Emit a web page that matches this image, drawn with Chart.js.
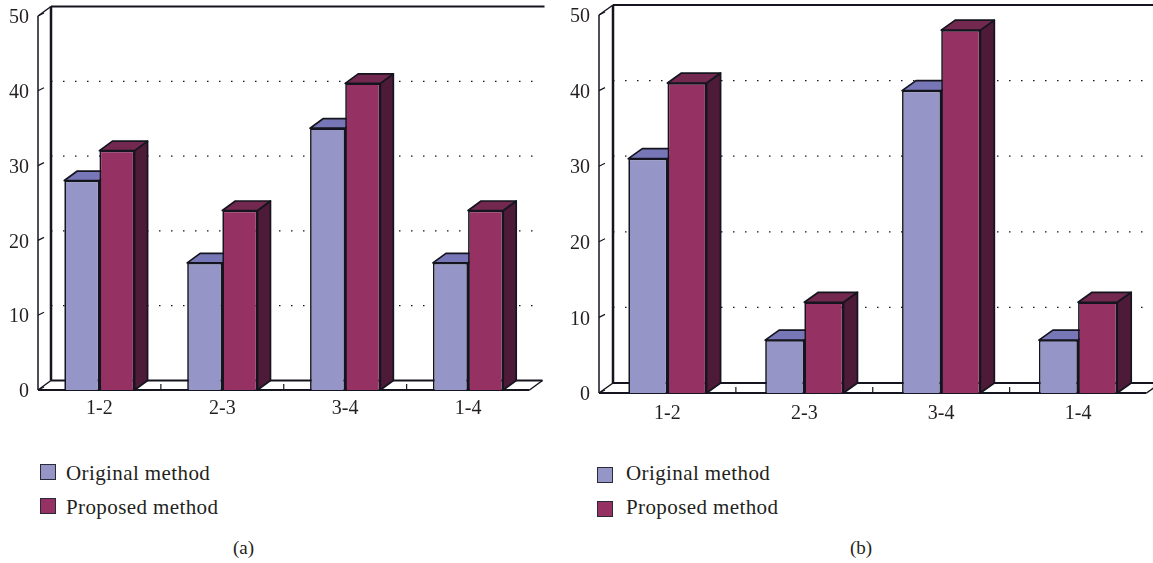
<!DOCTYPE html>
<html lang="en">

<head>
    <meta charset="UTF-8">
    <script src="https://cdn.jsdelivr.net/npm/chart.js@4/dist/chart.umd.min.js"></script>
    <title>Original and proposed method</title>
    <style>
        html, body { margin: 0; padding: 0; background: #fff; overflow: hidden; width: 1153px; height: 563px; }
        body { position: relative; font-family: "Liberation Serif", serif; color: #231f20; font-size: 21px; }
        canvas { position: absolute; top: 0; }
        .swatch { position: absolute; width: 14px; height: 14px; border: 1.5px solid #2a2a38; }
        .lbl { position: absolute; white-space: nowrap; line-height: 22px; letter-spacing: 0.4px; }
        .cap { position: absolute; white-space: nowrap; line-height: 22px; top: 537px; font-size: 19px; }
    </style>
</head>

<body>
    <canvas id="chartA" width="575" height="440" style="left:0"></canvas>
    <canvas id="chartB" width="593" height="443" style="left:560px"></canvas>
    <div class="cap" style="left:233px">(a)</div>
    <div class="cap" style="left:850px">(b)</div>
</body>

</html>
<script type="text/javascript">
    var categories = ["1-2", "2-3", "3-4", "1-4"];
    var seriesNames = ["Original method", "Proposed method"];
    var originalA = [28, 17, 35, 17];
    var proposedA = [32, 24, 41, 24];
    var originalB = [31, 7, 40, 7];
    var proposedB = [41, 12, 48, 12];
    var frontColours = ["#9595c7", "#953163"];
    var topColours = ["#7777b7", "#72284f"];
    var sideColours = ["#4c4c80", "#4d1a38"];
    var lineColour = "#15151f";
    var serif = "'Liberation Serif', serif";

    function poly(ctx, pts, fill) {
        ctx.beginPath();
        ctx.moveTo(pts[0][0], pts[0][1]);
        for (var i = 1; i < pts.length; i++) ctx.lineTo(pts[i][0], pts[i][1]);
        ctx.closePath();
        ctx.fillStyle = fill;
        ctx.fill();
        ctx.stroke();
    }

    function line(ctx, x1, y1, x2, y2, width) {
        ctx.lineWidth = width;
        ctx.beginPath();
        ctx.moveTo(x1, y1);
        ctx.lineTo(x2, y2);
        ctx.stroke();
    }

    // back wall, floor and the depth faces of the bars, chart.js draws the front faces on top
    var box3d = {
        id: 'box3d',
        beforeDatasetsDraw: function (chart, args, opts) {
            var ctx = chart.ctx, a = chart.chartArea, yScale = chart.scales.y, xScale = chart.scales.x;
            var dx = opts.dx, dy = opts.dy;
            ctx.save();
            ctx.strokeStyle = lineColour;

            // dotted lines on the back wall
            ctx.setLineDash([1.5, 10.5]);
            yScale.ticks.forEach(function (t) {
                if (t.value == 0 || t.value == 50) return;
                var y = yScale.getPixelForValue(t.value) + dy;
                line(ctx, a.left + dx, y, a.right + dx - 8, y, 1.3);
            });
            ctx.setLineDash([]);

            // ticks on the front of the wall
            yScale.ticks.forEach(function (t) {
                var y = yScale.getPixelForValue(t.value);
                line(ctx, a.left, y, a.left + 6, y - 3, 1.2);
            });

            // walls
            line(ctx, a.left, a.top, a.left, a.bottom, 1.5);
            line(ctx, a.left + dx, a.top + dy, a.left + dx, a.bottom + dy, 2.5);
            line(ctx, a.left + dx, a.top + dy, a.right + dx + 2, a.top + dy, 2);
            line(ctx, a.left, a.top, a.left + dx, a.top + dy, 1.5);

            // floor
            line(ctx, a.left + dx, a.bottom + dy, a.right + dx, a.bottom + dy, 2);
            line(ctx, a.left, a.bottom, a.left + dx, a.bottom + dy, 1.5);
            line(ctx, a.right, a.bottom, a.right + dx, a.bottom + dy, 1.5);
            line(ctx, a.left, a.bottom, a.right, a.bottom, 2);

            // little ticks between the categories
            for (var c = 1; c < categories.length; c++) {
                var tx = (xScale.getPixelForValue(c - 1) + xScale.getPixelForValue(c)) / 2;
                line(ctx, tx, a.bottom, tx, a.bottom - 6, 1.2);
            }

            ctx.lineWidth = 1.7;
            ctx.lineJoin = 'round';
            chart.data.datasets.forEach(function (ds, d) {
                chart.getDatasetMeta(d).data.forEach(function (bar) {
                    var l = bar.x - bar.width / 2, r = bar.x + bar.width / 2, t = bar.y, b = bar.base;
                    poly(ctx, [[r, t], [r + dx, t + dy], [r + dx, b + dy], [r, b]], sideColours[d]);
                    poly(ctx, [[l, t], [l + dx, t + dy], [r + dx, t + dy], [r, t]], topColours[d]);
                });
            });
            ctx.restore();
        }
    };

    function makeChart(id, orig, prop, padRight, top, axisWidth, labelPad, dx, dy) {
        return new Chart(document.getElementById(id), {
            type: 'bar',
            data: {
                labels: categories,
                datasets: [orig, prop].map(function (vals, i) {
                    return {
                        label: seriesNames[i],
                        data: vals,
                        backgroundColor: frontColours[i],
                        borderColor: lineColour,
                        borderWidth: 1.7,
                        categoryPercentage: 0.572,
                        barPercentage: 1
                    };
                })
            },
            options: {
                responsive: false,
                animation: false,
                layout: { autoPadding: false, padding: { left: 0, right: padRight, top: top, bottom: 0 } },
                plugins: {
                    legend: { display: false },
                    tooltip: { enabled: false },
                    box3d: { dx: dx, dy: dy }
                },
                scales: {
                    x: {
                        grid: { display: false, drawTicks: false },
                        border: { display: false },
                        ticks: { color: '#231f20', padding: labelPad, maxRotation: 0, font: { family: serif, size: 20 } },
                        afterFit: function (s) { s.height = 50; }
                    },
                    y: {
                        min: 0,
                        max: 50,
                        // tick padding also adds to the space over the plot, so most of the gap is tick length
                        grid: { display: false, tickLength: 6 },
                        border: { display: false },
                        ticks: { stepSize: 10, color: '#231f20', padding: 3, labelOffset: 2, font: { family: serif, size: 20 } },
                        afterFit: function (s) { s.width = axisWidth; }
                    }
                }
            },
            plugins: [box3d]
        });
    }

    makeChart('chartA', originalA, proposedA, 45.5, 16, 38, 7, 13, -9.5);
    makeChart('chartB', originalB, proposedB, 6.5, 15, 39, 9, 14, -10);

    // legends below the charts
    [[40, 66, 464, 462], [597, 626, 467, 462]].forEach(function (p) {
        seriesNames.forEach(function (name, i) {
            var sw = document.createElement('div');
            sw.className = 'swatch';
            sw.style.left = p[0] + 'px';
            sw.style.top = (p[2] + i * 34) + 'px';
            sw.style.background = frontColours[i];
            document.body.appendChild(sw);
            var t = document.createElement('div');
            t.className = 'lbl';
            t.textContent = name;
            t.style.left = p[1] + 'px';
            t.style.top = (p[3] + i * 34) + 'px';
            document.body.appendChild(t);
        });
    });
</script>
